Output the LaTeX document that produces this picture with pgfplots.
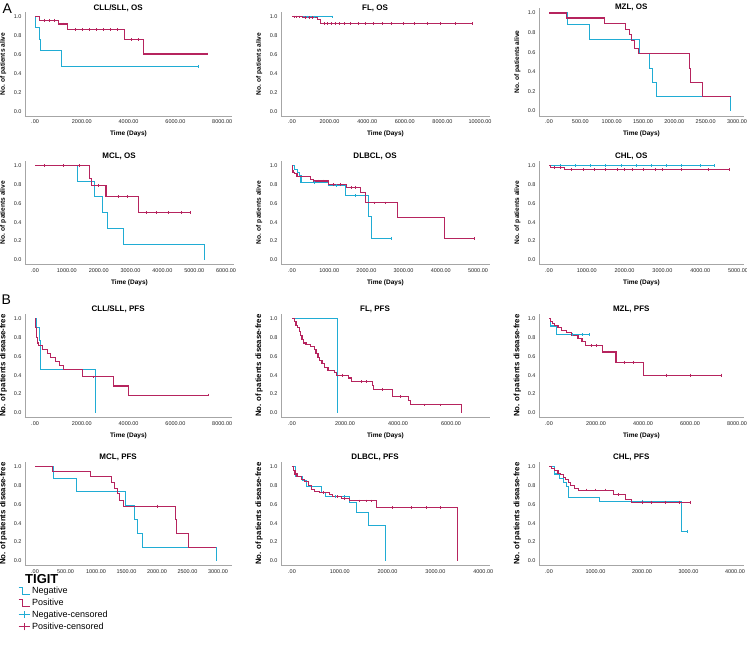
\documentclass[border=0pt]{standalone}
\usepackage{fontspec}
\setmainfont{Liberation Sans}
\usepackage{pgfplots}
\pgfplotsset{compat=1.18}
\definecolor{cneg}{RGB}{32,172,212}
\definecolor{cpos}{RGB}{182,36,94}
\pgfplotsset{
  km/.style={scale only axis, height=104pt, ymin=-0.05, ymax=1.05, anchor=south west,
    axis x line=bottom, axis y line=left,
    axis line style={-, draw=black!35, line width=0.6pt},
    ytick={0,0.2,0.4,0.6,0.8,1.0}, yticklabels={0.0,0.2,0.4,0.6,0.8,1.0},
    major tick length=0pt, scaled x ticks=false,
    tick label style={font=\fontsize{5.5}{6}\selectfont, text=black!85},
    xlabel style={font=\bfseries\fontsize{6.5}{7}\selectfont, yshift=-0.5pt},
    ylabel style={at={(axis description cs:-0.105,0.5)}, anchor=center},
    title style={font=\bfseries\fontsize{8}{9}\selectfont, at={(axis description cs:0.45,1)}, anchor=base, yshift=-4pt},
  },
  os/.style={km, xlabel={Time (Days)}, ylabel={No. of patients alive},
    ylabel style={font=\bfseries\fontsize{6.6}{7}\selectfont}},
  pfs/.style={km, ylabel={No. of patients disease-free},
    ylabel style={font=\bfseries\fontsize{7.8}{8}\selectfont}},
  neg/.style={const plot mark left, no marks, color=cneg, line width=1.05pt},
  pos/.style={const plot mark left, no marks, color=cpos, line width=1.05pt},
  negc/.style={only marks, mark=|, mark size=1.4pt, color=cneg, mark options={line width=0.5pt}},
  posc/.style={only marks, mark=|, mark size=1.4pt, color=cpos, mark options={line width=0.5pt}},
  stepleg/.style={legend image code/.code={\draw[##1] (0pt,3.5pt) -- (4pt,3.5pt) -- (4pt,-3.5pt) -- (11pt,-3.5pt);}},
  cenleg/.style={legend image code/.code={\draw[##1] (0pt,0pt) -- (11pt,0pt); \draw[##1] (5.5pt,-3.5pt) -- (5.5pt,3.5pt);}},
}
\begin{document}
\begin{tikzpicture}
\fill[white] (0,0) rectangle (747pt,655pt);
\useasboundingbox (0,0) rectangle (747pt,655pt);
\node[anchor=base west, font=\fontsize{14}{14}\selectfont, inner sep=0pt] at (2.5pt,641.7pt) {A};
\node[anchor=base west, font=\fontsize{14}{14}\selectfont, inner sep=0pt] at (1.5pt,350pt) {B};

% ---------- A: overall survival ----------
\begin{axis}[os, at={(25pt,538.8pt)}, width=207pt, xmin=-430, xmax=8420,
  title={CLL/SLL, OS}, xtick={0,2000,4000,6000,8000},
  xticklabels={.00,2000.00,4000.00,6000.00,8000.00}]
\addplot[neg] coordinates {(0,1)(30,0.889)(170,0.765)(220,0.64)(1140,0.477)(6980,0.477)};
\addplot[negc] coordinates {(6980,0.477)};
\addplot[pos] coordinates {(0,1)(210,0.964)(1000,0.925)(1400,0.864)(3820,0.758)(4630,0.608)(7380,0.608)};
\addplot[posc] coordinates {(400,0.964)(600,0.964)(800,0.964)(1200,0.925)(1700,0.864)(2000,0.864)(2300,0.864)(2600,0.864)(2900,0.864)(3200,0.864)(3500,0.864)(4100,0.758)(4400,0.758)(7380,0.608)};
\end{axis}

\begin{axis}[os, at={(281pt,538.8pt)}, width=209pt, xmin=-585, xmax=10530,
  title={FL, OS}, xtick={0,2000,4000,6000,8000,10000},
  xticklabels={.00,2000.00,4000.00,6000.00,8000.00,10000.00}]
\addplot[neg] coordinates {(0,1)(2140,1)};
\addplot[negc] coordinates {(800,1)(1200,1)(2140,1)};
\addplot[pos] coordinates {(0,1)(540,0.99)(1350,0.975)(1500,0.93)(9610,0.93)};
\addplot[posc] coordinates {(100,1)(250,1)(400,1)(700,0.99)(900,0.99)(1100,0.99)(1700,0.93)(1900,0.93)(2100,0.93)(2300,0.93)(2500,0.93)(2800,0.93)(3100,0.93)(3500,0.93)(3900,0.93)(4300,0.93)(4800,0.93)(5300,0.93)(5900,0.93)(6500,0.93)(7200,0.93)(7900,0.93)(8700,0.93)(9610,0.93)};
\end{axis}

\begin{axis}[os, at={(539pt,539.1pt)}, width=205pt, height=107.8pt, xmin=-160, xmax=3112,
  title={MZL, OS}, title style={yshift=-3.5pt}, xtick={0,500,1000,1500,2000,2500,3000},
  xticklabels={.00,500.00,1000.00,1500.00,2000.00,2500.00,3000.00}]
\addplot[neg] coordinates {(0,1)(298,0.878)(649,0.731)(1441,0.588)(1596,0.436)(1649,0.293)(1718,0.146)(2900,0.146)(2900,0)};
\addplot[pos] coordinates {(0,1)(282,0.949)(883,0.891)(1213,0.834)(1282,0.776)(1319,0.718)(1362,0.64)(1426,0.582)(2239,0.436)(2261,0.293)(2452,0.146)(2900,0.146)};
\end{axis}

\begin{axis}[os, at={(25pt,390.3pt)}, width=209pt, xmin=-315, xmax=6250,
  title={MCL, OS}, xtick={0,1000,2000,3000,4000,5000,6000},
  xticklabels={.00,1000.00,2000.00,3000.00,4000.00,5000.00,6000.00}]
\addplot[neg] coordinates {(0,1)(1330,0.834)(1864,0.667)(2115,0.5)(2262,0.333)(2785,0.167)(5320,0.167)(5320,0)};
\addplot[pos] coordinates {(0,1)(1697,0.866)(1780,0.791)(2230,0.67)(3246,0.5)(4890,0.5)};
\addplot[posc] coordinates {(300,1)(900,1)(1400,1)(2000,0.791)(2600,0.67)(2900,0.67)(3500,0.5)(3800,0.5)(4200,0.5)(4600,0.5)(4890,0.5)};
\end{axis}

\begin{axis}[os, at={(281pt,390.3pt)}, width=209pt, xmin=-296, xmax=5323,
  title={DLBCL, OS}, xtick={0,1000,2000,3000,4000,5000},
  xticklabels={.00,1000.00,2000.00,3000.00,4000.00,5000.00}]
\addplot[neg] coordinates {(0,1)(62,0.957)(152,0.929)(205,0.89)(241,0.823)(982,0.787)(1429,0.68)(2054,0.461)(2125,0.23)(2680,0.23)};
\addplot[negc] coordinates {(600,0.823)(1200,0.787)(1700,0.68)(2680,0.23)};
\addplot[pos] coordinates {(0,1)(10,0.95)(27,0.93)(70,0.91)(134,0.887)(491,0.855)(580,0.835)(982,0.795)(1473,0.77)(1830,0.71)(1964,0.603)(2830,0.45)(4089,0.227)(4910,0.227)};
\addplot[posc] coordinates {(700,0.835)(850,0.835)(1100,0.795)(1300,0.795)(1600,0.77)(1700,0.77)(2200,0.603)(2500,0.603)(4910,0.227)};
\end{axis}

\begin{axis}[os, at={(539pt,390.3pt)}, width=205pt, xmin=-265, xmax=5159,
  title={CHL, OS}, xtick={0,1000,2000,3000,4000,5000},
  xticklabels={.00,1000.00,2000.00,3000.00,4000.00,5000.00}]
\addplot[neg] coordinates {(0,1)(4365,1)};
\addplot[negc] coordinates {(300,1)(700,1)(1100,1)(1500,1)(1900,1)(2300,1)(2700,1)(3100,1)(3500,1)(4000,1)(4365,1)};
\addplot[pos] coordinates {(0,1)(35,0.975)(414,0.954)(4762,0.954)};
\addplot[posc] coordinates {(150,0.975)(300,0.975)(600,0.954)(900,0.954)(1200,0.954)(1500,0.954)(1800,0.954)(2000,0.954)(2200,0.954)(2500,0.954)(2800,0.954)(3000,0.954)(3500,0.954)(4200,0.954)(4762,0.954)};
\end{axis}

% ---------- B: progression-free survival ----------
\begin{axis}[pfs, xlabel={Time (Days)}, at={(25pt,237.3pt)}, width=207pt, xmin=-430, xmax=8420,
  title={CLL/SLL, PFS}, xtick={0,2000,4000,6000,8000},
  xticklabels={.00,2000.00,4000.00,6000.00,8000.00}]
\addplot[neg] coordinates {(0,1)(43,0.9)(171,0.77)(214,0.62)(243,0.463)(2600,0.463)(2600,0)};
\addplot[pos] coordinates {(0,1)(20,0.9)(60,0.8)(100,0.74)(143,0.71)(329,0.67)(529,0.626)(643,0.584)(857,0.545)(1043,0.5)(1214,0.459)(2043,0.381)(3371,0.285)(4000,0.189)(7400,0.189)};
\addplot[posc] coordinates {(2500,0.381)(7400,0.189)};
\end{axis}

\begin{axis}[pfs, xlabel={Time (Days)}, at={(281pt,237.3pt)}, width=209pt, xmin=-415, xmax=7470,
  title={FL, PFS}, xtick={0,2000,4000,6000},
  xticklabels={.00,2000.00,4000.00,6000.00}]
\addplot[neg] coordinates {(0,1)(1723,1)(1723,0)};
\addplot[pos] coordinates {(0,1)(100,0.97)(151,0.93)(214,0.90)(277,0.86)(327,0.82)(377,0.78)(440,0.74)(528,0.72)(692,0.70)(843,0.67)(906,0.63)(981,0.59)(1044,0.55)(1132,0.52)(1233,0.48)(1358,0.45)(1610,0.43)(1673,0.40)(2138,0.37)(2239,0.33)(3020,0.29)(3090,0.25)(3774,0.17)(4403,0.13)(4453,0.085)(6390,0.085)(6390,0)};
\addplot[posc] coordinates {(1900,0.40)(2600,0.33)(2800,0.33)(3400,0.25)(4100,0.17)(5000,0.085)(5600,0.085)};
\end{axis}

\begin{axis}[pfs, xlabel={Time (Days)}, at={(539pt,237.3pt)}, width=205pt, xmin=-426, xmax=8298,
  title={MZL, PFS}, xtick={0,2000,4000,6000,8000},
  xticklabels={.00,2000.00,4000.00,6000.00,8000.00}]
\addplot[neg] coordinates {(0,1)(71,0.92)(312,0.83)(1702,0.83)};
\addplot[negc] coordinates {(1000,0.83)(1400,0.83)(1702,0.83)};
\addplot[pos] coordinates {(0,1)(71,0.97)(142,0.95)(241,0.93)(383,0.90)(525,0.87)(738,0.85)(950,0.82)(1234,0.79)(1404,0.76)(1546,0.71)(2270,0.645)(2851,0.535)(4028,0.40)(7333,0.40)};
\addplot[posc] coordinates {(1800,0.71)(2000,0.71)(2500,0.645)(3200,0.535)(3600,0.535)(5000,0.40)(6000,0.40)(7333,0.40)};
\end{axis}

\begin{axis}[pfs, at={(25pt,89.3pt)}, width=207pt, xmin=-164, xmax=3230,
  title={MCL, PFS}, xtick={0,500,1000,1500,2000,2500,3000},
  xticklabels={.00,500.00,1000.00,1500.00,2000.00,2500.00,3000.00}]
\addplot[neg] coordinates {(0,1)(311,0.875)(682,0.73)(1489,0.585)(1636,0.44)(1680,0.29)(1762,0.146)(2973,0.146)(2973,0)};
\addplot[pos] coordinates {(0,1)(289,0.95)(911,0.894)(1255,0.834)(1309,0.77)(1347,0.71)(1380,0.64)(1457,0.58)(2302,0.435)(2318,0.29)(2515,0.145)(2973,0.145)};
\addplot[posc] coordinates {(2000,0.58)};
\end{axis}

\begin{axis}[pfs, at={(281pt,89.3pt)}, width=209pt, xmin=-230, xmax=4142,
  title={DLBCL, PFS}, xtick={0,1000,2000,3000,4000},
  xticklabels={.00,1000.00,2000.00,3000.00,4000.00}]
\addplot[neg] coordinates {(0,1)(70,0.89)(225,0.85)(295,0.79)(625,0.72)(702,0.68)(1207,0.62)(1347,0.51)(1593,0.38)(1958,0.38)(1958,0)};
\addplot[negc] coordinates {(900,0.68)(1100,0.68)};
\addplot[pos] coordinates {(0,1)(28,0.96)(63,0.92)(105,0.89)(190,0.86)(260,0.84)(344,0.80)(400,0.76)(470,0.73)(575,0.72)(786,0.70)(856,0.68)(1032,0.66)(1207,0.635)(1768,0.565)(3467,0.565)(3467,0)};
\addplot[posc] coordinates {(650,0.72)(950,0.68)(1100,0.66)(1400,0.635)(1550,0.635)(1650,0.635)(2100,0.565)(2500,0.565)(2800,0.565)(3100,0.565)};
\end{axis}

\begin{axis}[pfs, at={(539pt,89.3pt)}, width=205pt, xmin=-215, xmax=4194,
  title={CHL, PFS}, xtick={0,1000,2000,3000,4000},
  xticklabels={.00,1000.00,2000.00,3000.00,4000.00}]
\addplot[neg] coordinates {(0,1)(122,0.92)(230,0.875)(302,0.833)(374,0.79)(424,0.667)(1079,0.625)(2842,0.31)(2964,0.31)};
\addplot[negc] coordinates {(2000,0.625)(2964,0.31)};
\addplot[pos] coordinates {(0,1)(50,0.98)(122,0.96)(194,0.93)(252,0.91)(302,0.88)(353,0.86)(410,0.83)(468,0.80)(540,0.77)(640,0.75)(1396,0.70)(1647,0.65)(1777,0.62)(3036,0.62)};
\addplot[posc] coordinates {(800,0.75)(1000,0.75)(1200,0.75)(1500,0.70)(2000,0.62)(2200,0.62)(2500,0.62)(2800,0.62)(3036,0.62)};
\end{axis}

% ---------- legend ----------
\node[anchor=base west, font=\bfseries\fontsize{13}{14}\selectfont, inner sep=0pt] at (25pt,71.5pt) {TIGIT};
\begin{axis}[at={(18pt,0pt)}, anchor=south west, hide axis, scale only axis,
  width=110pt, height=70.5pt, xmin=0, xmax=1, ymin=0, ymax=1,
  legend cell align=left,
  legend style={at={(0,1)}, anchor=north west, draw=none, fill=none,
    font=\fontsize{9}{10}\selectfont, row sep=0pt, inner sep=0pt}]
\addlegendimage{stepleg, cneg, line width=0.9pt}
\addlegendentry{Negative}
\addlegendimage{stepleg, cpos, line width=0.9pt}
\addlegendentry{Positive}
\addlegendimage{cenleg, cneg, line width=0.9pt}
\addlegendentry{Negative-censored}
\addlegendimage{cenleg, cpos, line width=0.9pt}
\addlegendentry{Positive-censored}
\end{axis}
\end{tikzpicture}
\end{document}
